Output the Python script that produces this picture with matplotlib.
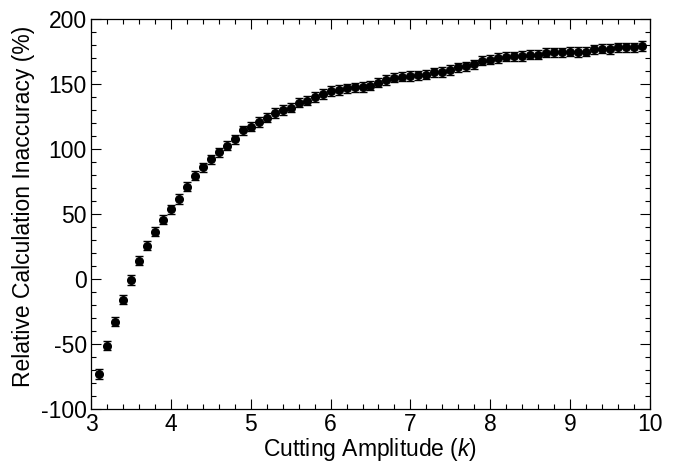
import matplotlib
matplotlib.use("Agg")
import matplotlib.pyplot as plt
from matplotlib.ticker import MultipleLocator

plt.rcParams['font.family'] = ['Liberation Sans', 'DejaVu Sans']
plt.rcParams['mathtext.fontset'] = 'custom'
plt.rcParams['mathtext.it'] = 'Liberation Sans:italic'
plt.rcParams['mathtext.rm'] = 'Liberation Sans'
plt.rcParams['axes.unicode_minus'] = False

# cutting amplitude k
k = [3.1, 3.2, 3.3, 3.4, 3.5, 3.6, 3.7, 3.8, 3.9, 4.0,
     4.1, 4.2, 4.3, 4.4, 4.5, 4.6, 4.7, 4.8, 4.9, 5.0,
     5.1, 5.2, 5.3, 5.4, 5.5, 5.6, 5.7, 5.8, 5.9, 6.0,
     6.1, 6.2, 6.3, 6.4, 6.5, 6.6, 6.7, 6.8, 6.9, 7.0,
     7.1, 7.2, 7.3, 7.4, 7.5, 7.6, 7.7, 7.8, 7.9, 8.0,
     8.1, 8.2, 8.3, 8.4, 8.5, 8.6, 8.7, 8.8, 8.9, 9.0,
     9.1, 9.2, 9.3, 9.4, 9.5, 9.6, 9.7, 9.8, 9.9]

# relative calculation inaccuracy (%)
inacc = [-73.1, -51.3, -32.8, -15.9, -0.8, 14.1, 25.6, 36.4, 45.6, 53.6,
         61.5, 71.0, 79.5, 85.9, 92.1, 97.5, 102.5, 107.5, 114.4, 117.2,
         120.8, 124.1, 127.7, 130.0, 131.8, 135.6, 137.2, 140.0, 142.3, 144.6,
         145.4, 146.7, 147.5, 147.7, 148.7, 151.0, 153.1, 154.8, 155.6, 156.2,
         156.7, 157.2, 159.0, 159.2, 160.8, 162.8, 163.6, 165.2, 167.9, 168.7,
         170.0, 171.0, 171.3, 171.5, 172.5, 172.5, 174.1, 174.4, 174.4, 174.8,
         174.6, 174.8, 176.7, 177.2, 176.9, 178.2, 178.2, 178.2, 179.0]

err = [3.8, 3.6, 3.6, 3.6, 3.6, 3.6, 3.6, 3.6, 3.6, 3.6,
       3.6, 3.6, 3.6, 3.6, 3.6, 3.6, 3.6, 3.6, 3.6, 3.6,
       3.6, 3.6, 3.6, 3.6, 3.6, 3.6, 3.6, 3.6, 3.6, 3.6,
       3.6, 3.6, 3.6, 3.6, 3.6, 3.6, 3.6, 3.6, 3.6, 3.6,
       3.6, 3.6, 3.6, 3.6, 3.6, 3.6, 3.6, 3.6, 3.6, 3.6,
       3.6, 3.6, 3.6, 3.6, 3.6, 3.6, 3.6, 3.6, 3.6, 3.6,
       3.6, 3.6, 3.6, 3.6, 3.6, 3.6, 3.6, 3.6, 3.8]

fig = plt.figure(figsize=(6.76, 4.62), dpi=100)
ax = fig.add_axes([91/676, 1 - 409/462, 559/676, 390/462])

ax.errorbar(k, inacc, yerr=err, fmt='o', color='black', ms=5.5,
            ecolor='black', elinewidth=1.0, capsize=2.6, capthick=1.0)

ax.set_xlim(3, 10)
ax.set_ylim(-100, 200)
ax.xaxis.set_major_locator(MultipleLocator(1))
ax.xaxis.set_minor_locator(MultipleLocator(0.2))
ax.yaxis.set_major_locator(MultipleLocator(50))
ax.yaxis.set_minor_locator(MultipleLocator(10))

ax.tick_params(which='both', direction='in', top=True, right=True,
               width=0.8, labelsize=16.5)
ax.tick_params(which='major', length=7.5)
ax.tick_params(which='minor', length=3.6)
ax.tick_params(axis='x', pad=3)
ax.tick_params(axis='y', pad=3)
for s in ax.spines.values():
    s.set_linewidth(0.9)

ax.set_xlabel(r'Cutting Amplitude ($\it{k}$)', fontsize=16.5, labelpad=0)
ax.set_ylabel('Relative Calculation Inaccuracy (%)', fontsize=16.5)
ax.yaxis.set_label_coords(-0.1, 0.52)

fig.savefig('out.png', dpi=100)
